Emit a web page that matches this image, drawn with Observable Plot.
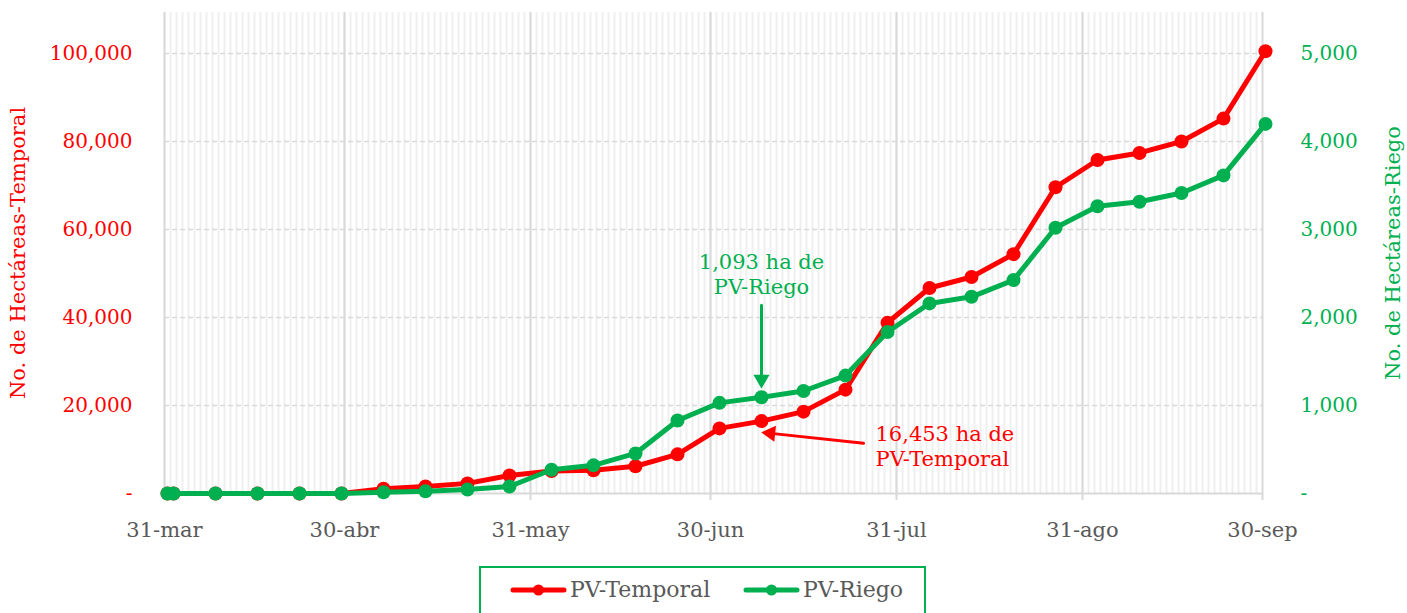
<!DOCTYPE html>
<html>
<head>
<meta charset="utf-8">
<script src="https://cdn.jsdelivr.net/npm/d3@7"></script>
<script src="https://cdn.jsdelivr.net/npm/@observablehq/plot@0.6"></script>
<style>
  html, body { margin: 0; padding: 0; background: #ffffff; }
  body { font-family: "DejaVu Serif", serif; position: relative; width: 1407px; height: 613px; overflow: hidden; }
  #legend { position: absolute; left: 479px; top: 566px; width: 447px; height: 60px; border: 2px solid #00b050; box-sizing: border-box; }
  .item { position: absolute; top: 9px; height: 26px; display: flex; align-items: center; }
  .item span { font-size: 22px; color: #595959; margin-left: 3px; line-height: 26px; }
</style>
</head>
<body>
<div id="chart"></div>
<div id="legend"></div>
<script>
// ---- data ----
const fechas = ["2021-03-31","2021-04-01","2021-04-08","2021-04-15","2021-04-22","2021-04-29",
  "2021-05-06","2021-05-13","2021-05-20","2021-05-27","2021-06-03","2021-06-10","2021-06-17",
  "2021-06-24","2021-07-01","2021-07-08","2021-07-15","2021-07-22","2021-07-29","2021-08-05",
  "2021-08-12","2021-08-19","2021-08-26","2021-09-02","2021-09-09","2021-09-16","2021-09-23","2021-09-30"];
const temporal = [0,0,0,0,0,0,1100,1600,2300,4100,5100,5300,6200,8900,14800,16453,18600,23600,
  38800,46700,49200,54400,69600,75800,77400,80000,85200,100500];
const riego = [0,0,0,0,0,0,15,25,45,80,270,320,455,830,1030,1093,1165,1340,
  1835,2160,2235,2425,3020,3265,3315,3415,3615,4200];
const series = ["PV-Temporal","PV-Riego"];
const colores = ["#ff0000","#00b050"];
const xTickDates = ["2021-03-31","2021-04-30","2021-05-31","2021-06-30","2021-07-31","2021-08-31","2021-09-30"];
const xTickLabels = ["31-mar","30-abr","31-may","30-jun","31-jul","31-ago","30-sep"];
const yLeftTicks = [0,20000,40000,60000,80000,100000];
const yRightTicks = [0,1000,2000,3000,4000,5000];
const tituloIzq = "No. de Hectáreas-Temporal";
const tituloDer = "No. de Hectáreas-Riego";
// annotations (label anchor, arrow start, arrow tip), in data units
const notaRiego = {texto: "1,093 ha de\nPV-Riego", fecha: "2021-07-08", valor: 2500, desde: ["2021-07-08", 2140], hasta: ["2021-07-08", 1093]};
const notaTemporal = {texto: "16,453 ha de\nPV-Temporal", fecha: "2021-07-27", valor: 11000, desde: ["2021-07-25", 11400], hasta: ["2021-07-08T12:00", 13900]};

// ---- build ----
const parse = s => new Date(s.length > 10 ? s + "Z" : s + "T00:00Z");
const mid = d => d3.utcHour.offset(d, 12);
const k = yLeftTicks[yLeftTicks.length - 1] / yRightTicks[yRightTicks.length - 1];
const data = fechas.map((f, i) => ({date: mid(parse(f)), temporal: temporal[i], riego: riego[i]}));
const xStart = parse(xTickDates[0]);
const xEnd = parse(xTickDates[xTickDates.length - 1]);
const ticks = xTickDates.map(parse);
const labelOf = new Map(ticks.map((d, i) => [+d, xTickLabels[i]]));
const days = d3.utcDay.range(xStart, xEnd);
const fmt = d3.format(",");
const gray = "#595959";

const chart = Plot.plot({
  width: 1407,
  height: 556,
  marginLeft: 164,
  marginRight: 145,
  marginTop: 12,
  marginBottom: 63,
  x: {type: "utc", domain: [xStart, xEnd], axis: null},
  y: {domain: [0, 100000], range: [493, 53], axis: null},
  style: {fontFamily: "DejaVu Serif, serif", background: "#ffffff", overflow: "visible"},
  marks: [
    Plot.ruleX(days, {x: d => d, stroke: "#efefef", strokeWidth: 2}),
    Plot.ruleX(ticks, {x: d => d, stroke: "#d9d9d9", strokeWidth: 2}),
    Plot.ruleY(yLeftTicks.filter(v => v > 0), {y: d => d, stroke: "#d9d9d9", strokeWidth: 1.5, strokeDasharray: "5,3"}),
    Plot.ruleY([0], {y: d => d, stroke: "#d9d9d9", strokeWidth: 2}),
    Plot.axisX(ticks, {tickFormat: d => labelOf.get(+d), tickSize: 7, tickPadding: 22, stroke: "#d9d9d9", strokeWidth: 2, fill: gray, fontSize: 21}),
    Plot.axisY(yLeftTicks, {anchor: "left", tickSize: 0, tickPadding: 32, tickFormat: d => d === 0 ? "-" : fmt(d), fill: colores[0], fontSize: 20, label: null}),
    Plot.axisY(yRightTicks.map(v => v * k), {anchor: "right", tickSize: 0, tickPadding: 38, tickFormat: d => d === 0 ? "-" : fmt(d / k), fill: colores[1], fontSize: 20, label: null}),
    Plot.text([tituloIzq], {frameAnchor: "left", text: d => d, rotate: -90, dx: -146, fill: colores[0], fontSize: 21, textAnchor: "middle", lineAnchor: "middle"}),
    Plot.text([tituloDer], {frameAnchor: "right", text: d => d, rotate: -90, dx: 131, fill: colores[1], fontSize: 21, textAnchor: "middle", lineAnchor: "middle"}),
    Plot.line(data, {x: "date", y: "temporal", stroke: colores[0], strokeWidth: 5}),
    Plot.dot(data, {x: "date", y: "temporal", r: 7, fill: colores[0]}),
    Plot.line(data, {x: "date", y: d => d.riego * k, stroke: colores[1], strokeWidth: 5}),
    Plot.dot(data, {x: "date", y: d => d.riego * k, r: 7, fill: colores[1]}),
    // annotations
    Plot.text([notaRiego], {x: d => mid(parse(d.fecha)), y: d => d.valor * k, text: "texto", fill: colores[1], fontSize: 21, lineHeight: 1.2, textAnchor: "middle", lineAnchor: "middle"}),
    Plot.arrow([notaRiego], {x1: d => mid(parse(d.desde[0])), y1: d => d.desde[1] * k, x2: d => mid(parse(d.hasta[0])), y2: d => d.hasta[1] * k, insetEnd: 22, headLength: 0, stroke: colores[1], strokeWidth: 3}),
    Plot.dot([notaRiego], {x: d => mid(parse(d.hasta[0])), y: d => d.hasta[1] * k, symbol: "triangle", rotate: 180, r: 6, dy: -18, fill: colores[1], stroke: "none"}),
    Plot.text([notaTemporal], {x: d => mid(parse(d.fecha)), y: "valor", text: "texto", fill: colores[0], fontSize: 21, lineHeight: 1.2, textAnchor: "start", lineAnchor: "middle"}),
    Plot.arrow([notaTemporal], {x1: d => mid(parse(d.desde[0])), y1: d => d.desde[1], x2: d => parse(d.hasta[0]), y2: d => d.hasta[1], insetEnd: 12, headLength: 0, stroke: colores[0], strokeWidth: 3}),
    Plot.dot([notaTemporal], {x: d => parse(d.hasta[0]), y: d => d.hasta[1], symbol: "triangle", rotate: -84, r: 6, dx: 9, dy: 1, fill: colores[0], stroke: "none"})
  ]
});
document.getElementById("chart").appendChild(chart);

// legend
const legend = document.getElementById("legend");
const lefts = [29, 262];
series.forEach((s, i) => {
  const item = document.createElement("div");
  item.className = "item";
  item.style.left = lefts[i] + "px";
  item.innerHTML = `<svg width="57" height="14"><line x1="3" y1="7" x2="54" y2="7" stroke="${colores[i]}" stroke-width="5" stroke-linecap="round"/><circle cx="28.5" cy="7" r="5.5" fill="${colores[i]}"/></svg><span>${s}</span>`;
  legend.appendChild(item);
});
</script>
</body>
</html>
